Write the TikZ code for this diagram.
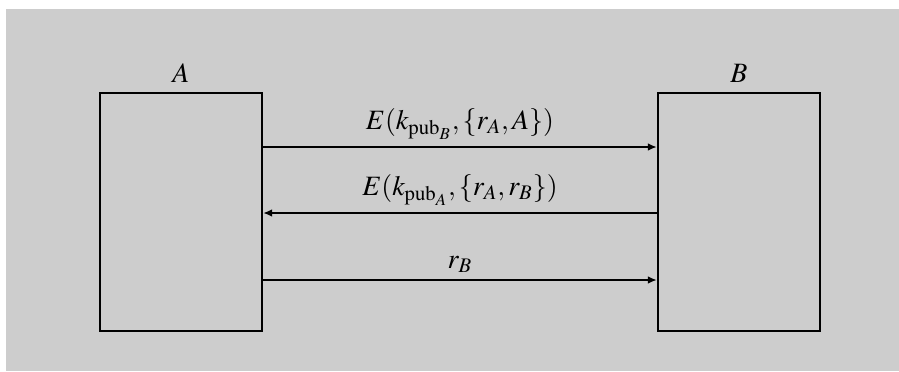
\documentclass[tikz,border=0pt]{standalone}
\usepackage{mathptmx}
\usetikzlibrary{arrows.meta}
\definecolor{FigureGray}{HTML}{CDCDCD}

\begin{document}
\begin{tikzpicture}[x=0.5pt,y=-0.5pt,line cap=butt,font=\fontsize{14}{17}\selectfont,
  party/.style={draw,line width=1.15pt,minimum width=81pt,minimum height=119pt,inner sep=0pt},
  msg/.style={line width=0.85pt,-{Latex[length=4.5pt,width=3.8pt]}}]
  \useasboundingbox (0,0) rectangle (899,371);
  \fill[FigureGray] (6,9) rectangle (899,371);
  \node[party] (A) at (181,212) {}; \node[party] (B) at (739,212) {};
  \node[anchor=base] (labA) at (181,82) {$A$}; \node[anchor=base] (labB) at (739,82) {$B$};
  \coordinate (m1) at (0,147); \coordinate (m2) at (0,213); \coordinate (m3) at (0,280);
  \draw[msg] (A.east |- m1) -- (B.west |- m1) node[midway,above] (t1) {$E(k_{\mathrm{pub}_B},\{r_A,A\})$};
  \draw[msg] (B.west |- m2) -- (A.east |- m2) node[midway,above] (t2) {$E(k_{\mathrm{pub}_A},\{r_A,r_B\})$};
  \draw[msg] (A.east |- m3) -- (B.west |- m3) node[midway,above] (t3) {$r_B$};
\end{tikzpicture}
\end{document}
